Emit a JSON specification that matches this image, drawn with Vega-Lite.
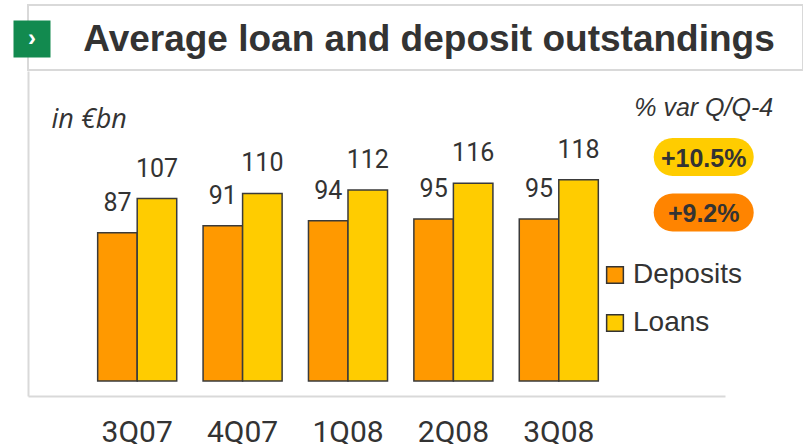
{
  "$schema": "https://vega.github.io/schema/vega-lite/v6.json",
  "padding": {"left": 26, "top": 4, "right": 0, "bottom": 0},
  "background": "white",
  "config": {"view": {"stroke": null}},
  "spacing": 0,
  "vconcat": [
    {
      "width": 775, "height": 65,
      "view": {"stroke": "#d9d9d9", "strokeWidth": 2},
      "data": {"values": [{}]},
      "layer": [
        {
          "mark": {"type": "text", "text": "Average loan and deposit outstandings", "font": "Liberation Sans", "fontWeight": "bold", "fontSize": 37, "color": "#333333", "align": "center", "baseline": "alphabetic", "dx": 13.5, "dy": 13.5}
        },
        {
          "mark": {"type": "text", "text": ""},
          "encoding": {
            "y": {
              "datum": 0.5, "type": "quantitative",
              "scale": {"domain": [0, 1], "range": [52, 15]},
              "axis": {"orient": "left", "offset": -3.5, "domain": true, "domainColor": "#128a4f", "domainWidth": 37, "domainCap": "butt", "ticks": false, "labels": false, "grid": false, "title": "›", "titleAngle": 0, "titleX": 0, "titleY": 33.5, "titleAlign": "center", "titleBaseline": "middle", "titleColor": "#ffffff", "titleFont": "Liberation Sans", "titleFontWeight": "bold", "titleFontSize": 24}
            }
          }
        }
      ]
    },
    {
      "width": 697, "height": 325,
      "data": {"values": [
        {"quarter": "3Q07", "series": "Deposits", "value": 87},
        {"quarter": "3Q07", "series": "Loans", "value": 107},
        {"quarter": "4Q07", "series": "Deposits", "value": 91},
        {"quarter": "4Q07", "series": "Loans", "value": 110},
        {"quarter": "1Q08", "series": "Deposits", "value": 94},
        {"quarter": "1Q08", "series": "Loans", "value": 112},
        {"quarter": "2Q08", "series": "Deposits", "value": 95},
        {"quarter": "2Q08", "series": "Loans", "value": 116},
        {"quarter": "3Q08", "series": "Deposits", "value": 95},
        {"quarter": "3Q08", "series": "Loans", "value": 118}
      ]},
      "layer": [
        {
          "mark": {"type": "bar", "stroke": "#3a3a3a", "strokeWidth": 1.5},
          "encoding": {
            "x": {
              "field": "quarter", "type": "nominal", "sort": null,
              "scale": {"type": "band", "domain": ["3Q07", "4Q07", "1Q08", "2Q08", "3Q08", "var"], "paddingInner": 0.25, "paddingOuter": 0.4315, "align": 0.766},
              "axis": {"title": null, "values": ["3Q07", "4Q07", "1Q08", "2Q08", "3Q08"], "domainColor": "#d9d9d9", "domainWidth": 2, "ticks": false, "tickSize": 0, "labelPadding": 21, "labelFont": "Roboto", "labelFontSize": 30, "labelColor": "#333333", "labelAngle": 0, "grid": false}
            },
            "y": {
              "field": "value", "type": "quantitative",
              "scale": {"domain": [-8.8, 181.8], "nice": false, "zero": false},
              "axis": {"title": "in €bn", "labels": false, "ticks": false, "domainColor": "#d9d9d9", "domainWidth": 2, "grid": false, "titleAngle": 0, "titleAlign": "left", "titleBaseline": "alphabetic", "titleX": 23, "titleY": 56, "titleFont": "Open Sans", "titleFontStyle": "italic", "titleFontWeight": "normal", "titleFontSize": 27, "titleColor": "#333333"}
            },
            "xOffset": {"field": "series", "type": "nominal", "scale": {"domain": ["Deposits", "Loans"], "paddingInner": 0, "paddingOuter": 0}},
            "y2": {"datum": 0},
            "color": {
              "field": "series", "type": "nominal",
              "scale": {"domain": ["Deposits", "Loans"], "range": ["#ff9900", "#ffcc00"]},
              "legend": {"orient": "none", "legendX": 573, "legendY": 256, "title": null, "symbolType": "square", "symbolSize": 280, "symbolStrokeColor": "#333333", "symbolStrokeWidth": 1.5, "symbolOpacity": 1, "labelFontSize": 28, "labelFont": "Liberation Sans", "labelColor": "#333333", "labelOffset": 4, "rowPadding": 20, "padding": 0}
            }
          }
        },
        {
          "mark": {"type": "text", "font": "Roboto", "fontSize": 25, "color": "#333333", "baseline": "alphabetic", "align": "center", "dy": -22},
          "encoding": {
            "x": {"field": "quarter", "type": "nominal", "sort": null},
            "xOffset": {"field": "series", "type": "nominal"},
            "y": {"field": "value", "type": "quantitative"},
            "text": {"field": "value", "type": "quantitative"}
          }
        },
        {
          "data": {"values": [{"slot": "var", "label": "% var Q/Q-4"}]},
          "mark": {"type": "text", "font": "Liberation Sans", "fontStyle": "italic", "fontSize": 25, "color": "#333333", "align": "center", "baseline": "alphabetic"},
          "encoding": {
            "x": {"field": "slot", "type": "nominal", "bandPosition": 1},
            "y": {"datum": 155.4},
            "text": {"field": "label"}
          }
        },
        {
          "data": {"values": [{"slot": "var", "series": "Loans", "change": "+10.5%"}]},
          "encoding": {
            "x": {"field": "slot", "type": "nominal", "bandPosition": 1},
            "y": {"datum": 131.4}
          },
          "layer": [
            {
              "mark": {"type": "point", "shape": "M -0.62 -0.38 L 0.62 -0.38 A 0.38 0.38 0 0 1 0.62 0.38 L -0.62 0.38 A 0.38 0.38 0 0 1 -0.62 -0.38 Z", "size": 10000, "filled": true, "color": "#ffcc00", "opacity": 1, "strokeWidth": 0}
            },
            {
              "mark": {"type": "text", "font": "Liberation Sans", "fontWeight": "bold", "fontSize": 25, "color": "#333333", "align": "center", "baseline": "alphabetic", "dy": 10},
              "encoding": {"text": {"field": "change"}}
            }
          ]
        },
        {
          "data": {"values": [{"slot": "var", "series": "Deposits", "change": "+9.2%"}]},
          "encoding": {
            "x": {"field": "slot", "type": "nominal", "bandPosition": 1},
            "y": {"datum": 98.8}
          },
          "layer": [
            {
              "mark": {"type": "point", "shape": "M -0.62 -0.38 L 0.62 -0.38 A 0.38 0.38 0 0 1 0.62 0.38 L -0.62 0.38 A 0.38 0.38 0 0 1 -0.62 -0.38 Z", "size": 10000, "filled": true, "color": "#ff8400", "opacity": 1, "strokeWidth": 0}
            },
            {
              "mark": {"type": "text", "font": "Liberation Sans", "fontWeight": "bold", "fontSize": 25, "color": "#333333", "align": "center", "baseline": "alphabetic", "dy": 9},
              "encoding": {"text": {"field": "change"}}
            }
          ]
        }
      ]
    }
  ]
}
